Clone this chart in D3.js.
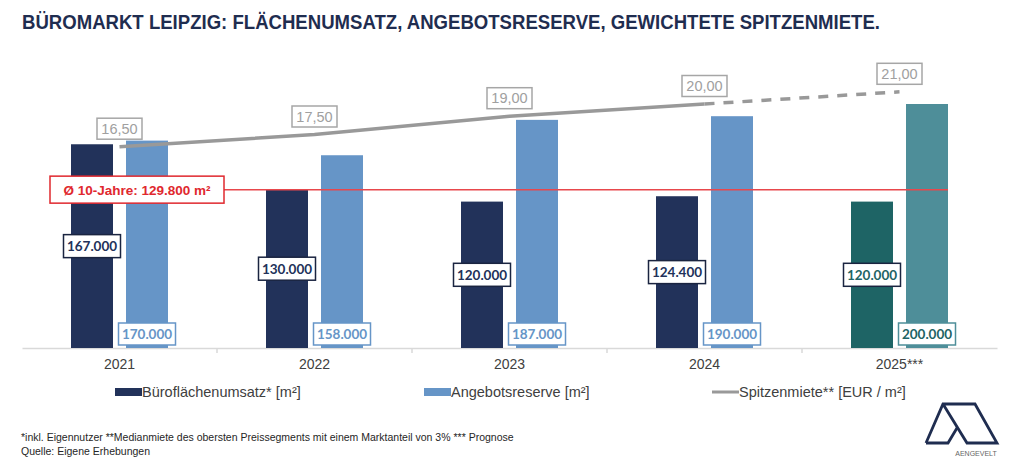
<!DOCTYPE html>
<html>
<head>
<meta charset="utf-8">
<script src="https://cdn.jsdelivr.net/npm/d3@7"></script>
<style>
  html, body { margin: 0; padding: 0; background: #fff; }
  svg { display: block; font-family: 'Liberation Sans', Arial, sans-serif; }
  .title { font-weight: bold; fill: #1f2d50; }
  .year { fill: #404040; font-size: 14px; }
  .legend text { fill: #404040; font-size: 14.5px; }
  .note { fill: #262626; font-size: 10.5px; }
  .val { font-family: Lato, 'Open Sans', sans-serif; font-weight: bold; font-size: 13.5px; }
  .rent { fill: #a0a0a0; font-size: 14.5px; }
</style>
</head>
<body>
<svg id="chart" width="1024" height="463"></svg>
<script>
// data
const YEARS = ['2021', '2022', '2023', '2024', '2025***'];
const UMSATZ = [167000, 130000, 120000, 124400, 120000];
const RESERVE = [170000, 158000, 187000, 190000, 200000];
const MIETE = [16.5, 17.5, 19.0, 20.0, 21.0];
const AVG_10Y = 129800;
const FORECAST = '2025***';
const LEGEND = ['Büroflächenumsatz* [m²]', 'Angebotsreserve [m²]', 'Spitzenmiete** [EUR / m²]'];

// dimensions
const MARGIN_LEFT = 22;
const MARGIN_RIGHT = 27;
const BASELINE = 348;
const TOP_Y = 104;
const BAR_W = 42;
const BAR_GAP = 13;

// colors
const NAVY = '#22325a';
const LIGHT = '#6695c7';
const TEAL_DARK = '#1e6465';
const TEAL_LIGHT = '#4e8e99';
const GREY = '#999999';
const RED = '#e0282e';

const de = d3.formatLocale({ decimal: ',', thousands: '.', grouping: [3], currency: ['', ' €'] });
const numFormat = de.format(',.0f');
const rentFormat = de.format('.2f');

const $svg = d3.select('#chart');
const width = +$svg.attr('width');

// scales
const scaleX = d3.scaleBand().domain(YEARS).range([MARGIN_LEFT, width - MARGIN_RIGHT]);
const scaleY = d3.scaleLinear().domain([0, 200000]).range([BASELINE, TOP_Y]);
const scaleRent = d3.scaleLinear().domain([0, 20]).range([BASELINE, TOP_Y]);
const center = (d) => scaleX(d) + scaleX.bandwidth() / 2;

const rows = YEARS.map((year, i) => ({
  year, umsatz: UMSATZ[i], reserve: RESERVE[i], miete: MIETE[i], forecast: year === FORECAST,
}));

// title
$svg.append('text')
  .attr('class', 'title')
  .attr('x', 22)
  .attr('y', 29)
  .attr('font-size', 21)
  .attr('textLength', 858)
  .attr('lengthAdjust', 'spacingAndGlyphs')
  .text('BÜROMARKT LEIPZIG: FLÄCHENUMSATZ, ANGEBOTSRESERVE, GEWICHTETE SPITZENMIETE.');

// x axis
const axisX = d3.axisBottom(scaleX).tickSize(0).tickPadding(11);
$svg.append('g')
  .attr('transform', `translate(0, ${BASELINE})`)
  .call(axisX)
  .call((g) => g.select('.domain').attr('stroke', '#d9d9d9').attr('stroke-width', 1.5))
  .call((g) => g.selectAll('.tick text').attr('class', 'year').attr('font-size', null).attr('font-family', null))
  .call((g) => g.selectAll('.sep')
    .data(YEARS.slice(1))
    .join('line')
    .attr('class', 'sep')
    .attr('x1', (d) => scaleX(d)).attr('x2', (d) => scaleX(d))
    .attr('y1', 0).attr('y2', 5)
    .attr('stroke', '#d9d9d9').attr('stroke-width', 1.5));

const $vis = $svg.append('g').attr('class', 'g-vis');

// bars
$vis.selectAll('.bar-umsatz')
  .data(rows)
  .join('rect')
  .attr('class', 'bar-umsatz')
  .attr('x', (d) => center(d.year) - BAR_GAP / 2 - BAR_W)
  .attr('width', BAR_W)
  .attr('y', (d) => scaleY(d.umsatz))
  .attr('height', (d) => BASELINE - scaleY(d.umsatz))
  .attr('fill', (d) => (d.forecast ? TEAL_DARK : NAVY));

$vis.selectAll('.bar-reserve')
  .data(rows)
  .join('rect')
  .attr('class', 'bar-reserve')
  .attr('x', (d) => center(d.year) + BAR_GAP / 2)
  .attr('width', BAR_W)
  .attr('y', (d) => scaleY(d.reserve))
  .attr('height', (d) => BASELINE - scaleY(d.reserve))
  .attr('fill', (d) => (d.forecast ? TEAL_LIGHT : LIGHT));

// average line + label
$vis.append('line')
  .attr('x1', 50)
  .attr('x2', center(FORECAST) + BAR_GAP / 2 + BAR_W)
  .attr('y1', scaleY(AVG_10Y)).attr('y2', scaleY(AVG_10Y))
  .attr('stroke', '#e8474c').attr('stroke-width', 1.5);

const $avg = $vis.append('g').attr('transform', `translate(50, ${scaleY(AVG_10Y)})`);
$avg.append('rect')
  .attr('x', 0).attr('y', -13.5).attr('width', 174).attr('height', 27)
  .attr('fill', '#fff').attr('stroke', RED).attr('stroke-width', 1.5);
$avg.append('text')
  .attr('x', 87).attr('y', 5)
  .attr('text-anchor', 'middle')
  .attr('fill', RED)
  .attr('font-weight', 'bold')
  .attr('font-size', 13.5)
  .text(`Ø 10-Jahre: ${numFormat(AVG_10Y)} m²`);

// helper: boxed label
function boxLabel(sel, { w, h, stroke, fill, cls }) {
  sel.append('rect')
    .attr('x', -w / 2).attr('y', -h / 2).attr('width', w).attr('height', h)
    .attr('fill', '#fff').attr('stroke', stroke).attr('stroke-width', 1.5);
  sel.append('text')
    .attr('class', cls)
    .attr('y', 5)
    .attr('text-anchor', 'middle')
    .attr('fill', fill)
    .text((d) => d.label);
}

// umsatz labels (bar middle)
$vis.selectAll('.lbl-umsatz')
  .data(rows.map((d) => ({ ...d, label: numFormat(d.umsatz) })))
  .join('g')
  .attr('class', 'lbl-umsatz')
  .attr('transform', (d) => `translate(${center(d.year) - BAR_GAP / 2 - BAR_W / 2}, ${(scaleY(d.umsatz) + BASELINE) / 2})`)
  .each(function (d) {
    boxLabel(d3.select(this), {
      w: 57, h: 23, stroke: '#1a2440', fill: d.forecast ? TEAL_DARK : NAVY, cls: 'val',
    });
  });

// reserve labels (inside base)
$vis.selectAll('.lbl-reserve')
  .data(rows.map((d) => ({ ...d, label: numFormat(d.reserve) })))
  .join('g')
  .attr('class', 'lbl-reserve')
  .attr('transform', (d) => `translate(${center(d.year) + BAR_GAP / 2 + BAR_W / 2}, ${BASELINE - 14})`)
  .each(function (d) {
    boxLabel(d3.select(this), {
      w: 57, h: 22, stroke: d.forecast ? TEAL_LIGHT : LIGHT, fill: d.forecast ? TEAL_DARK : LIGHT, cls: 'val',
    });
  });

// rent line
const line = d3.line().x((d) => center(d.year)).y((d) => scaleRent(d.miete));
const solid = rows.filter((d) => !d.forecast);
const dashed = rows.slice(solid.length - 1);

$vis.append('path')
  .datum(solid)
  .attr('d', line)
  .attr('fill', 'none').attr('stroke', GREY).attr('stroke-width', 3.5);
$vis.append('path')
  .datum(dashed)
  .attr('d', line)
  .attr('fill', 'none').attr('stroke', GREY).attr('stroke-width', 3.5)
  .attr('stroke-dasharray', '10 9');

$vis.selectAll('.lbl-rent')
  .data(rows.map((d) => ({ ...d, label: rentFormat(d.miete) })))
  .join('g')
  .attr('class', 'lbl-rent')
  .attr('transform', (d) => `translate(${center(d.year)}, ${scaleRent(d.miete) - 18})`)
  .each(function () {
    boxLabel(d3.select(this), { w: 45, h: 21, stroke: '#a6a6a6', fill: '#a0a0a0', cls: 'rent' });
  });

// legend
const $legend = $svg.append('g').attr('class', 'legend').attr('transform', 'translate(0, 392)');
const legendX = [115, 424, 712];
LEGEND.forEach((label, i) => {
  const $item = $legend.append('g').attr('transform', `translate(${legendX[i]}, 0)`);
  if (i < 2) {
    $item.append('rect').attr('x', 0).attr('y', -4).attr('width', 27).attr('height', 8)
      .attr('fill', i === 0 ? NAVY : LIGHT);
  } else {
    $item.append('line').attr('x1', 0).attr('x2', 27).attr('y1', 0).attr('y2', 0)
      .attr('stroke', GREY).attr('stroke-width', 3);
  }
  $item.append('text').attr('x', 27).attr('y', 5).text(label);
});

// footnotes
$svg.append('text').attr('class', 'note').attr('x', 21).attr('y', 441)
  .text('*inkl. Eigennutzer **Medianmiete des obersten Preissegments mit einem Marktanteil von 3% *** Prognose');
$svg.append('text').attr('class', 'note').attr('x', 21).attr('y', 455)
  .text('Quelle: Eigene Erhebungen');

// logo
const $logo = $svg.append('g').attr('fill', 'none').attr('stroke', '#1f2d50').attr('stroke-width', 2.8)
  .attr('stroke-linejoin', 'miter');
$logo.append('path').attr('d', 'M926,443 L943,404 L975,404 L997,443 L967,443 L943,404');
$logo.append('path').attr('d', 'M926,443 L948,443 L957,428');
$svg.append('text').attr('x', 976).attr('y', 456).attr('text-anchor', 'middle')
  .attr('font-size', 7).attr('fill', '#666').text('AENGEVELT');
</script>
</body>
</html>
